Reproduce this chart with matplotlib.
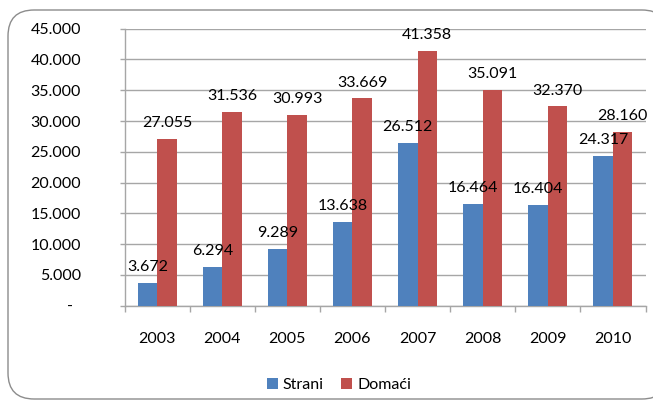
import matplotlib
matplotlib.use('Agg')
import matplotlib.pyplot as plt
import numpy as np
from matplotlib.patches import FancyBboxPatch
from matplotlib.ticker import FixedLocator, FuncFormatter
import matplotlib.transforms as mtransforms

# podaci
godine = ['2003', '2004', '2005', '2006', '2007', '2008', '2009', '2010']
strani = [3672, 6294, 9289, 13638, 26512, 16464, 16404, 24317]
domaci = [27055, 31536, 30993, 33669, 41358, 35091, 32370, 28160]
serije = ['Strani', 'Domaći']

plava = '#4F81BD'
crvena = '#C0504D'
siva = '#A6A6A6'

plt.rcParams['font.family'] = ['Lato', 'DejaVu Sans']
plt.rcParams['font.size'] = 11.5

fig = plt.figure(figsize=(6.53, 4.01), dpi=100)

# okvir grafikona (zaobljen, izlazi van slike desno)
W, H = 653.0, 401.0
okvir = FancyBboxPatch((8 / W, 2 / H), 660 / W, 389 / H,
                       boxstyle='round,pad=0,rounding_size=0.04',
                       transform=fig.transFigure, facecolor='white',
                       edgecolor='#8C8C8C', linewidth=1.0, zorder=-5,
                       mutation_aspect=W / H)
fig.patches.append(okvir)

ax = fig.add_axes([124.5 / W, 1 - 305.7 / H, 521 / W, 277 / H])
ax.set_facecolor('none')
ax.set_zorder(2)

x = np.arange(len(godine))
w = 0.3
b1 = ax.bar(x - w / 2, strani, w, color=plava, label=serije[0], zorder=3)
b2 = ax.bar(x + w / 2, domaci, w, color=crvena, label=serije[1], zorder=3)

def fmt(v):
    return '{:,}'.format(int(v)).replace(',', '.')

for bars, vals in ((b1, strani), (b2, domaci)):
    for r, v in zip(bars, vals):
        ax.annotate(fmt(v), (r.get_x() + r.get_width() / 2, v),
                    xytext=(0, 8.6), textcoords='offset points',
                    ha='center', va='baseline', zorder=4)

ax.set_xlim(-0.5, len(godine) - 0.5)
ax.set_ylim(0, 45000)
ax.set_yticks(np.arange(0, 45001, 5000))
ax.yaxis.set_major_formatter(FuncFormatter(lambda v, p: '-' if v == 0 else fmt(v)))
ax.yaxis.grid(True, color=siva, linewidth=1.0, zorder=1)
ax.set_axisbelow(True)
ax.tick_params(axis='y', length=3.6, width=1.0, color=siva, pad=27.7)

ax.set_xticks(x)
ax.set_xticklabels(godine)
ax.xaxis.set_minor_locator(FixedLocator(np.arange(-0.5, len(godine), 1.0)))
ax.tick_params(axis='x', which='major', length=0, pad=19)
ax.tick_params(axis='x', which='minor', length=4.3, width=1.0, color=siva)

for s in ['top', 'right']:
    ax.spines[s].set_visible(False)
for s in ['left', 'bottom']:
    ax.spines[s].set_color(siva)
    ax.spines[s].set_linewidth(1.0)

# crtica za nulu malo levije
lab0 = ax.get_yticklabels()[0]
lab0.set_transform(lab0.get_transform() +
                   mtransforms.ScaledTranslation(-8 / 100, 0, fig.dpi_scale_trans))

fig.legend(handles=[b1, b2], loc='center', bbox_to_anchor=(339 / W, 1 - 385 / H),
           ncol=2, frameon=False, handlelength=0.69, handleheight=0.69,
           handletextpad=0.3, columnspacing=1.1, borderaxespad=0)

fig.savefig('out.png', dpi=100)
